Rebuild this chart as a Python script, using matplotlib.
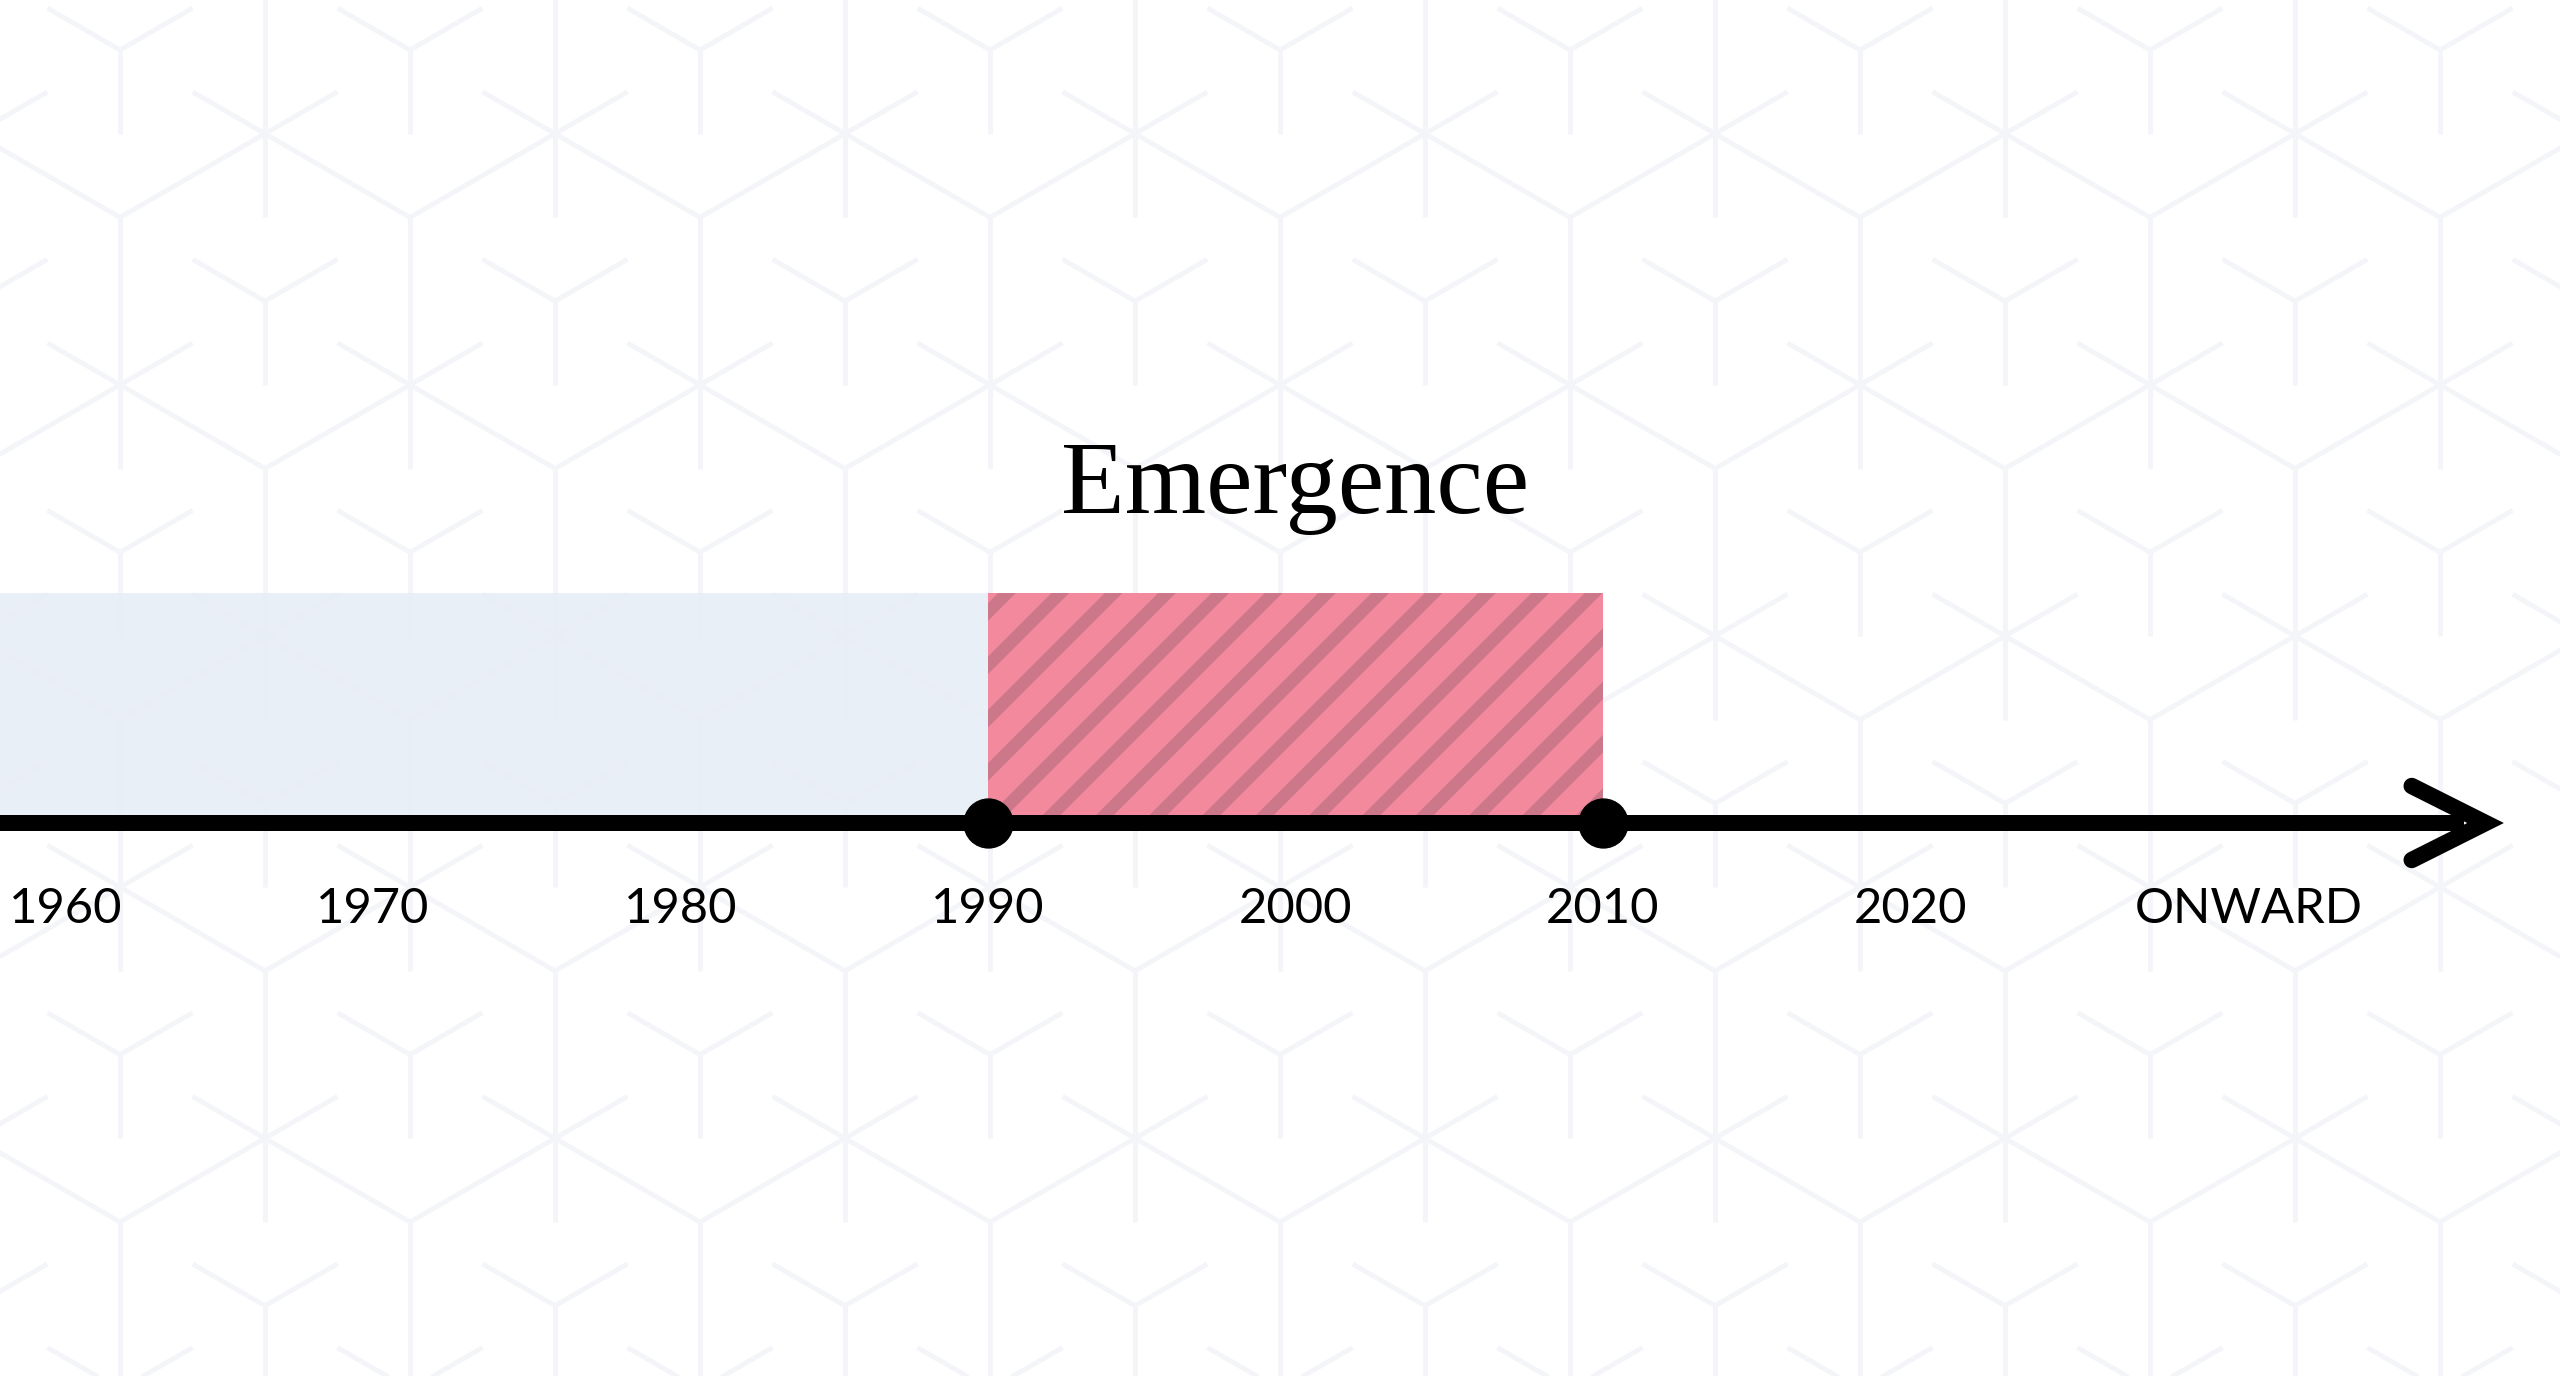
import numpy as np
import matplotlib
matplotlib.use("Agg")
import matplotlib.pyplot as plt
from matplotlib.collections import LineCollection

# ---- data ----
tick_years = [1960, 1970, 1980, 1990, 2000, 2010, 2020, 2031]
tick_labels = ["1960", "1970", "1980", "1990", "2000", "2010", "2020", "ONWARD"]
era_start = [1940, 1990]
era_end = [1990, 2010]
era_names = ["", "Emergence"]
milestones = [1990, 2010]

W, H, DPI = 2560, 1376, 320
plt.rcParams['hatch.linewidth'] = 2.8

fig = plt.figure(figsize=(W / DPI, H / DPI), dpi=DPI, facecolor="white")

# ---- background isometric pattern (pixel coordinates) ----
bg = fig.add_axes([0, 0, 1, 1])
bg.set_xlim(0, W)
bg.set_ylim(H, 0)
bg.axis("off")
x0, y0, dx = 120.0, 50.0, 145.0
dy = dx / np.sqrt(3)
segs = []
for i in range(-3, 20):
    for j in range(-6, 22):
        if (i + j) % 2:
            continue
        x = x0 + dx * i
        y = y0 + dy * j
        t = ((j + 3 * i) // 2) % 3
        f = 1.0 if t == 1 else 0.5
        for vx, vy in [(-dx, -dy), (dx, -dy), (0, 2 * dy)]:
            segs.append([(x, y), (x + f * vx, y + f * vy)])
bg.add_collection(LineCollection(segs, colors="#F3F5F8", linewidths=1.1,
                                 capstyle="butt"))

# ---- main timeline axes ----
ax = fig.add_axes([0, 0, 1, 1])
ax.patch.set_alpha(0)
px_per_year = 30.75
x_1990 = 988.0
ax.set_xlim(1990 - x_1990 / px_per_year, 1990 + (W - x_1990) / px_per_year)
axis_y = 823.0
ax.set_ylim(-(H - axis_y), axis_y)
ax.axis("off")

box_h = 230
colors = ["#E8EEF6", "#F2899D"]
ax.bar(era_start[0], box_h, width=era_end[0] - era_start[0], bottom=0,
       align="edge", color=colors[0], alpha=0.94, linewidth=0, zorder=1)
ax.bar(era_start[1], box_h, width=era_end[1] - era_start[1], bottom=0,
       align="edge", color=colors[1], edgecolor="#CD778A", hatch="//",
       linewidth=0, zorder=2)

# title of era
mid = (era_start[1] + era_end[1]) / 2
ax.text(mid, 310, era_names[1], ha="center", va="baseline",
        fontsize=23.5, family="Liberation Serif", color="black", zorder=5)

# axis line & arrow
line_end = 2038.0
ax.plot([ax.get_xlim()[0], line_end], [0, 0], color="black", lw=3.6,
        solid_capstyle="butt", zorder=3)
tip = 2038.7
arm_x = 2036.3
ax.plot([arm_x, tip, arm_x], [37, 0, -37], color="black", lw=3.7,
        solid_capstyle="round", solid_joinstyle="miter", zorder=3)

# milestone dots
ax.scatter(milestones, [0] * len(milestones), s=128, color="black",
           zorder=4, linewidths=0)

# tick labels
for yr, lab in zip(tick_years, tick_labels):
    ax.text(yr, -100, lab, ha="center", va="baseline", fontsize=11,
            family="Lato", color="black", zorder=5)

fig.savefig("out.png", dpi=DPI, facecolor="white")
